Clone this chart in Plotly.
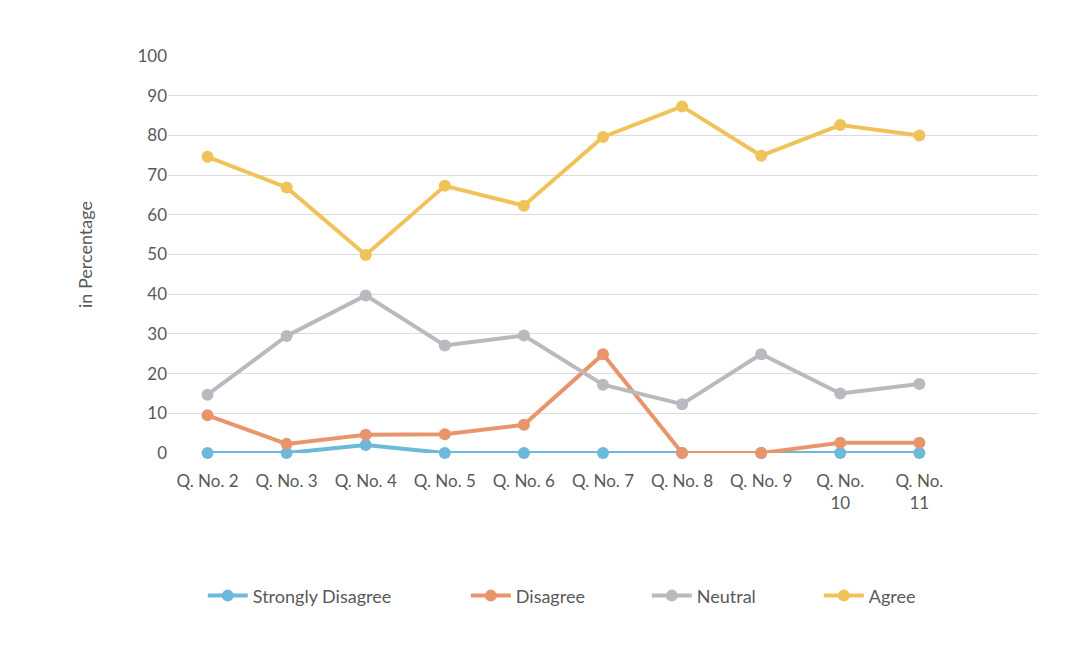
import plotly.graph_objects as go

categories = ["Q. No. 2", "Q. No. 3", "Q. No. 4", "Q. No. 5", "Q. No. 6",
              "Q. No. 7", "Q. No. 8", "Q. No. 9", "Q. No.<br>10", "Q. No.<br>11"]
strongly_disagree = [0, 0, 2, 0, 0, 0, 0, 0, 0, 0]
disagree = [9.5, 2.3, 4.6, 4.7, 7.1, 24.9, 0, 0, 2.6, 2.6]
neutral = [14.7, 29.5, 39.7, 27.1, 29.6, 17.2, 12.3, 24.9, 15.0, 17.4]
agree = [74.6, 66.9, 49.9, 67.3, 62.3, 79.6, 87.3, 74.9, 82.6, 80.0]
y_ticks = [0, 10, 20, 30, 40, 50, 60, 70, 80, 90, 100]

series = [
    ("Strongly Disagree", strongly_disagree, "#6cb9d9", 208),
    ("Disagree", disagree, "#e8956c", 126),
    ("Neutral", neutral, "#b9b9c0", 117),
    ("Agree", agree, "#f0c35a", 60),
]

fig = go.Figure()
for name, vals, color, lw in series:
    fig.add_trace(go.Scatter(
        x=categories, y=vals, name=name, mode="lines+markers",
        line=dict(color=color, width=4),
        marker=dict(color=color, size=12),
        cliponaxis=False,
        legendwidth=lw,
    ))

font = "Lato, 'Open Sans', sans-serif"
fig.update_layout(
    width=1074, height=650,
    paper_bgcolor="white", plot_bgcolor="white",
    margin=dict(l=160, r=44, t=48, b=205),
    font=dict(family=font, color="#595959", size=17),
    showlegend=True,
    legend=dict(orientation="h", x=0.04, xanchor="left", y=-0.36, yanchor="middle",
                font=dict(size=18, color="#595959"), itemwidth=40,
                traceorder="normal"),
    xaxis=dict(type="category", range=[-0.5, 10.5], showgrid=False,
               showline=False, zeroline=False, ticks="",
               ticklabelstandoff=16,
               tickfont=dict(size=17, color="#595959")),
    yaxis=dict(range=[0, 100], tickvals=y_ticks, showgrid=True,
               gridcolor="#dcdcdc", gridwidth=1, zeroline=False,
               showline=False, ticks="",
               tickfont=dict(size=17, color="#595959"),
               title=dict(text="in Percentage", font=dict(size=18, color="#595959"),
                          standoff=40)),
)

fig.write_html("out.html")
